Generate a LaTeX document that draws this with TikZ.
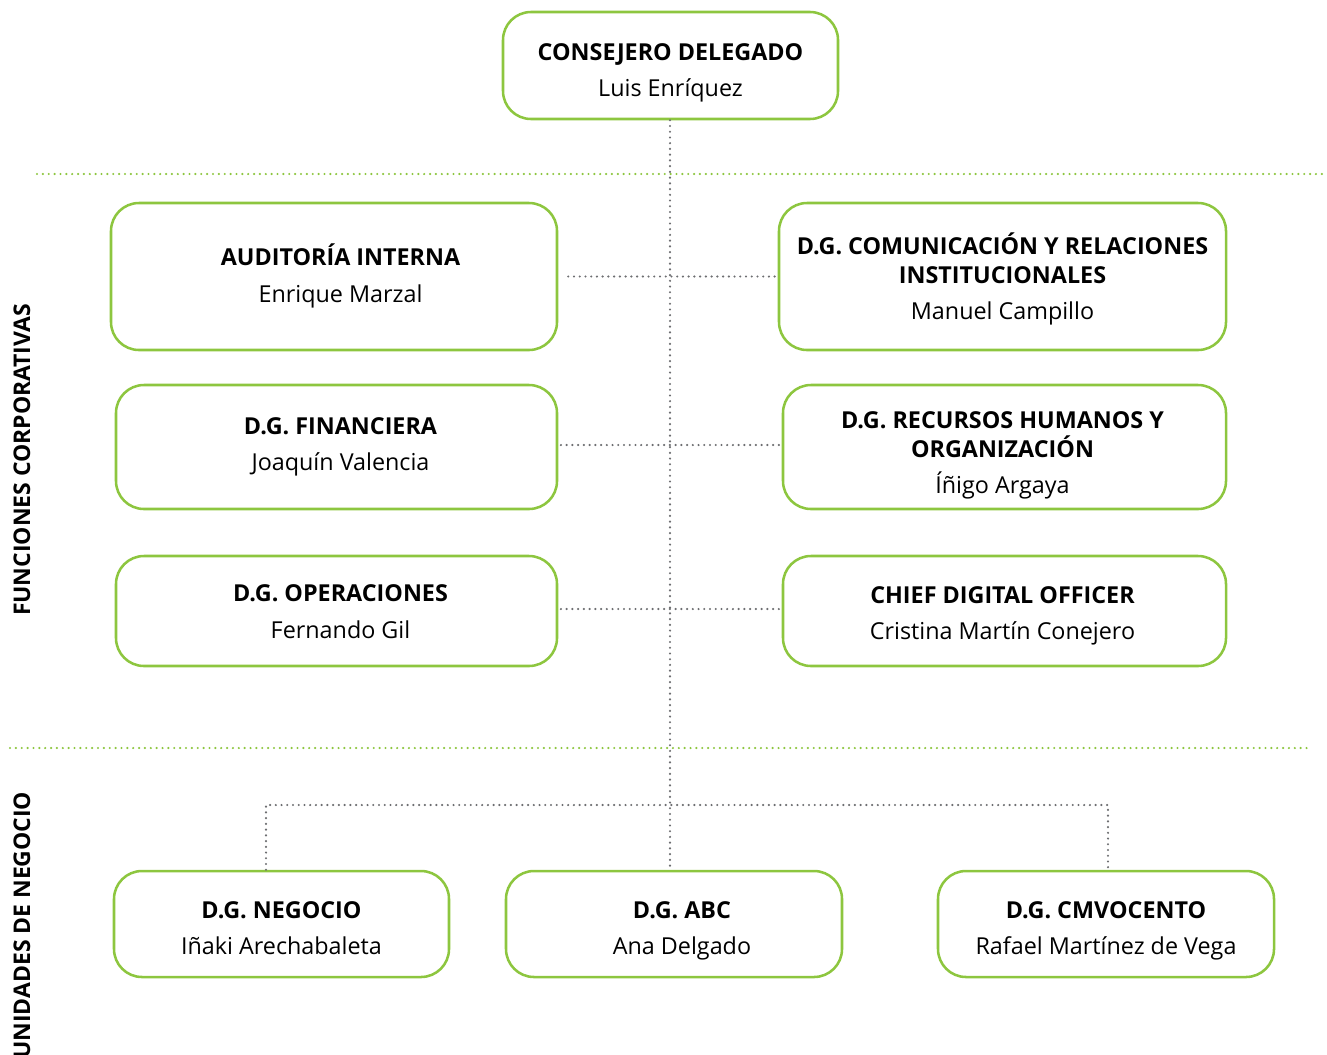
\documentclass[tikz,border=0pt]{standalone}
\usepackage{fontspec}
\setmainfont{Open Sans}
\definecolor{vgreen}{HTML}{8DC63F}
\definecolor{vgray}{HTML}{6D6E71}
\begin{document}
\begin{tikzpicture}[x=0.75pt,y=-0.75pt,
  orgbox/.style={draw=vgreen,line width=1.9pt,rounded corners=21pt,inner sep=0pt},
  orgtext/.style={align=center,inner sep=0pt,font=\fontsize{17.5}{21.75}\selectfont},
  gdot/.style={draw=vgreen,line width=1.8pt,line cap=round,dash pattern=on 0pt off 4.4pt},
  kdot/.style={draw=vgray,line width=1.8pt,line cap=round,dash pattern=on 0pt off 4.3pt},
  side/.style={rotate=90,font=\bfseries\fontsize{17.2}{20}\selectfont}]
\useasboundingbox (0,0) rectangle (1327,1054);
% section separators
\draw[gdot] (37,174) coordinate (g1a) -- (1327,174) coordinate (g1b);
\draw[gdot] (10,748) coordinate (g2a) -- (1310,748) coordinate (g2b);
% boxes
\node[orgbox,minimum width=335*0.75pt,minimum height=107*0.75pt] (ceo) at (670.5,65.5) {};
\node[orgbox,minimum width=446*0.75pt,minimum height=147*0.75pt] (aud) at (334,276.5) {};
\node[orgbox,minimum width=447*0.75pt,minimum height=147*0.75pt] (com) at (1002.5,276.5) {};
\node[orgbox,minimum width=441*0.75pt,minimum height=124*0.75pt] (fin) at (336.5,447) {};
\node[orgbox,minimum width=443*0.75pt,minimum height=124*0.75pt] (rrhh) at (1004.5,447) {};
\node[orgbox,minimum width=441*0.75pt,minimum height=110*0.75pt] (ope) at (336.5,611) {};
\node[orgbox,minimum width=443*0.75pt,minimum height=110*0.75pt] (cdo) at (1004.5,611) {};
\node[orgbox,minimum width=335*0.75pt,minimum height=106*0.75pt] (neg) at (281.5,924) {};
\node[orgbox,minimum width=336*0.75pt,minimum height=106*0.75pt] (abc) at (674,924) {};
\node[orgbox,minimum width=336*0.75pt,minimum height=106*0.75pt] (cmv) at (1106,924) {};
% texts
\node[orgtext] (ceoT) at (670.5,73) {\textbf{CONSEJERO DELEGADO}\\[5.5pt]Luis Enríquez};
\node[orgtext] (audT) at (340.5,276) {\textbf{AUDITORÍA INTERNA}\\[5.5pt]Enrique Marzal};
\node[orgtext] (comT) at (1002.5,279) {\textbf{D.G. COMUNICACIÓN Y RELACIONES}\\\textbf{INSTITUCIONALES}\\[5.5pt]Manuel Campillo};
\node[orgtext] (finT) at (340.5,447) {\textbf{D.G. FINANCIERA}\\[5.5pt]Joaquín Valencia};
\node[orgtext] (rrhhT) at (1002.5,455.5) {\textbf{D.G. RECURSOS HUMANOS Y}\\\textbf{ORGANIZACIÓN}\\[5.5pt]Íñigo Argaya};
\node[orgtext] (opeT) at (340.5,611.5) {\textbf{D.G. OPERACIONES}\\[5.5pt]Fernando Gil};
\node[orgtext] (cdoT) at (1002.5,616) {\textbf{CHIEF DIGITAL OFFICER}\\[5.5pt]Cristina Martín Conejero};
\node[orgtext] (negT) at (281.5,928) {\textbf{D.G. NEGOCIO}\\[5.5pt]Iñaki Arechabaleta};
\node[orgtext] (abcT) at (682,931) {\textbf{D.G. ABC}\\[5.5pt]Ana Delgado};
\node[orgtext] (cmvT) at (1106,931) {\textbf{D.G. CMVOCENTO}\\[5.5pt]Rafael Martínez de Vega};
% side labels
\node[side] (fc) at (22,460) {FUNCIONES CORPORATIVAS};
\node[side,anchor=east] (un) at (22,787) {UNIDADES DE NEGOCIO};
% connectors
\coordinate (spine) at (670,871);
\draw[kdot] (ceo.south -| spine) -- (spine);
\draw[kdot] ([xshift=7.5pt]aud.east) -- (com.west);
\draw[kdot] ([xshift=2pt,yshift=1.5pt]fin.east) -- ([yshift=1.5pt]rrhh.west);
\draw[kdot] ([xshift=2pt,yshift=1.5pt]ope.east) -- ([yshift=1.5pt]cdo.west);
\coordinate (bl) at (266,805);
\coordinate (br) at (1108,805);
\draw[kdot] (neg.north -| bl) -- (bl) -- (br) -- (cmv.north -| br);
\end{tikzpicture}
\end{document}
